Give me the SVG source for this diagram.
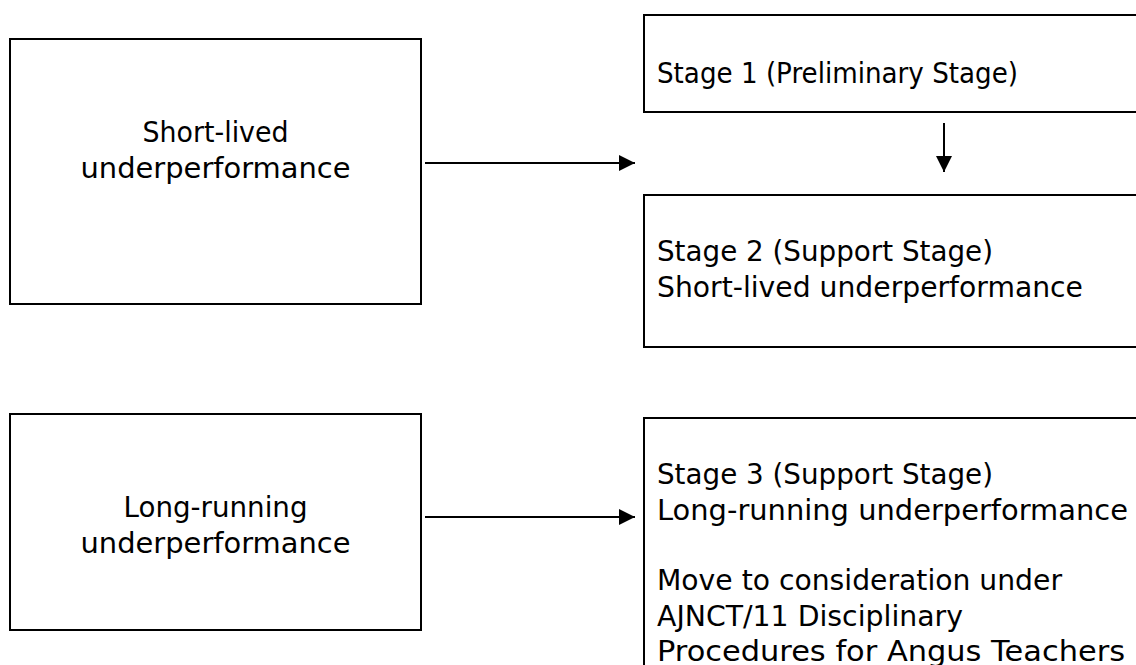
<svg xmlns="http://www.w3.org/2000/svg" width="1136" height="665" viewBox="0 0 1136 665">
<style>
.box{fill:#fff;stroke:#000;stroke-width:2}
.t{font-family:"DejaVu Sans",sans-serif;font-size:28px;fill:#000}
.c{text-anchor:middle}
.ln{stroke:#000;stroke-width:2;fill:none}
</style>
<defs>
<marker id="ah" markerWidth="16" markerHeight="16" viewBox="0 0 16 16" refX="16" refY="8" orient="auto" markerUnits="userSpaceOnUse">
<path d="M0,0 L16,8 L0,16 Z" fill="#000"/>
</marker>
</defs>
<rect width="1136" height="665" fill="#fff"/>
<g id="short-lived">
<rect class="box" x="10" y="39" width="411" height="265"/>
<text class="t c" x="215.5" y="142" textLength="146" lengthAdjust="spacingAndGlyphs">Short-lived</text>
<text class="t c" x="215.5" y="178" textLength="270" lengthAdjust="spacingAndGlyphs">underperformance</text>
</g>
<g id="stage1">
<rect class="box" x="644" y="15" width="500" height="97"/>
<text class="t" x="657" y="83" textLength="361" lengthAdjust="spacingAndGlyphs">Stage 1 (Preliminary Stage)</text>
</g>
<g id="stage2">
<rect class="box" x="644" y="195" width="500" height="152"/>
<text class="t" x="657" y="261" textLength="336" lengthAdjust="spacingAndGlyphs">Stage 2 (Support Stage)</text>
<text class="t" x="657" y="297" textLength="426" lengthAdjust="spacingAndGlyphs">Short-lived underperformance</text>
</g>
<g id="long-running">
<rect class="box" x="10" y="414" width="411" height="216"/>
<text class="t c" x="215.5" y="517" textLength="184" lengthAdjust="spacingAndGlyphs">Long-running</text>
<text class="t c" x="215.5" y="553" textLength="270" lengthAdjust="spacingAndGlyphs">underperformance</text>
</g>
<g id="stage3">
<rect class="box" x="644" y="418" width="500" height="260"/>
<text class="t" x="657" y="484" textLength="336" lengthAdjust="spacingAndGlyphs">Stage 3 (Support Stage)</text>
<text class="t" x="657" y="520" textLength="471" lengthAdjust="spacingAndGlyphs">Long-running underperformance</text>
<text class="t" x="657" y="590" textLength="405" lengthAdjust="spacingAndGlyphs">Move to consideration under</text>
<text class="t" x="657" y="626" textLength="306" lengthAdjust="spacingAndGlyphs">AJNCT/11 Disciplinary</text>
<text class="t" x="657" y="661" textLength="468" lengthAdjust="spacingAndGlyphs">Procedures for Angus Teachers</text>
</g>
<g id="connectors">
<line class="ln" x1="425" y1="163" x2="635" y2="163" marker-end="url(#ah)"/>
<line class="ln" x1="944" y1="123" x2="944" y2="172" marker-end="url(#ah)"/>
<line class="ln" x1="425" y1="517" x2="635" y2="517" marker-end="url(#ah)"/>
</g>
</svg>
